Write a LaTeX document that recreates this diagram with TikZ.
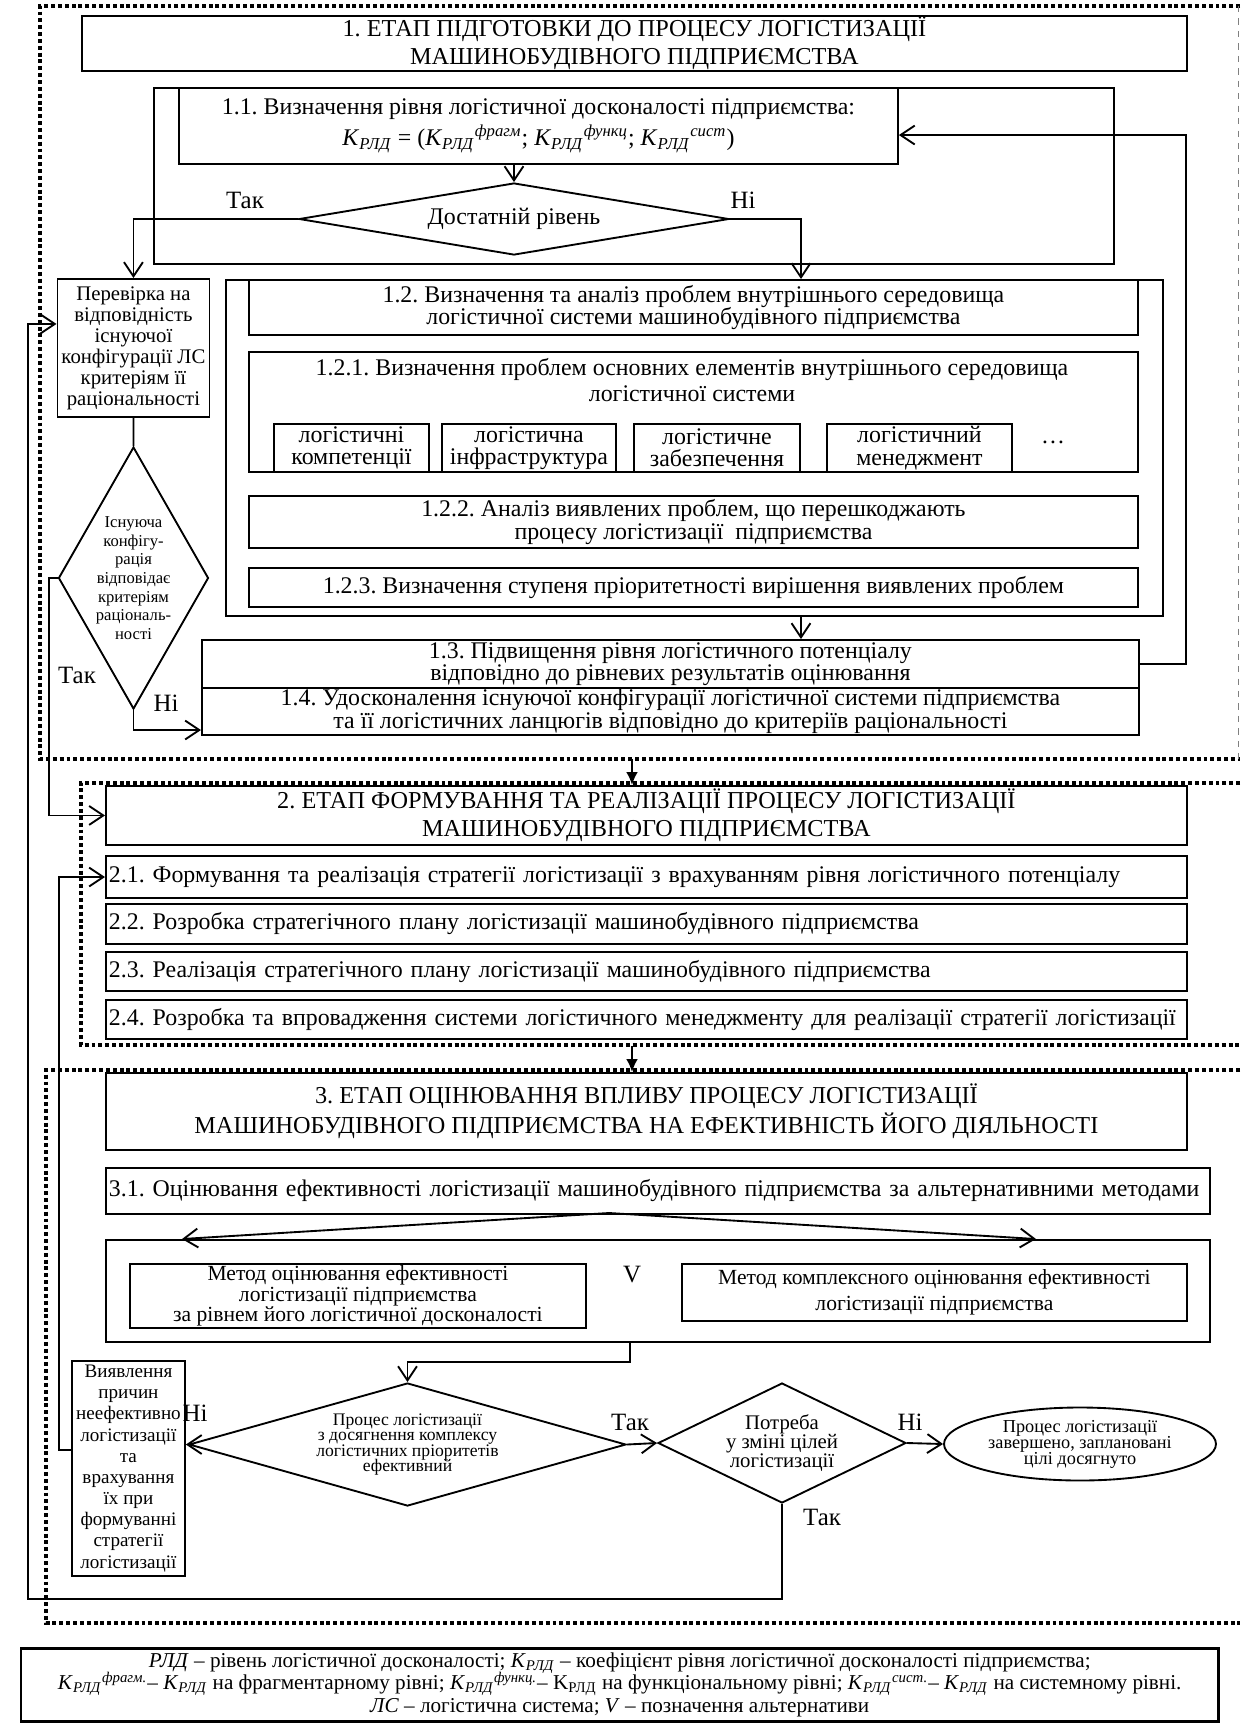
\documentclass[tikz,border=0pt]{standalone}
\usepackage{fontspec}
\setmainfont{Liberation Serif}
\usetikzlibrary{shapes.geometric, arrows.meta}
\frenchspacing

\newlength\pxu
\setlength\pxu{0.16933mm}
\newlength\wtwo
\setlength\wtwo{1075\pxu}
\newlength\wthree
\setlength\wthree{1098\pxu}
\newcommand\setfs[2]{\fontsize{#1}{#2}\selectfont\frenchspacing\lineskiplimit=-50pt\relax}
\newcommand\Kr{\textit{K}\textsubscript{\textit{РЛД}}}
\newcommand\Krld[1]{\Kr\textsuperscript{\textit{#1}}}

\begin{document}
\begin{tikzpicture}[x=0.16933mm, y=-0.16933mm,
  every node/.style={font=\setfs{11.5}{10.8}},
  wh/.style 2 args={minimum width=#1*\pxu, minimum height=#2*\pxu},
  box/.style={draw, line width=0.9pt, rectangle, inner sep=0.5pt, align=center, anchor=north west},
  boxl/.style={box, align=left, inner xsep=1pt, text width=#1},
  cond/.style={draw, line width=0.9pt, diamond, inner sep=0pt, align=center},
  titlebox/.style={box, font=\setfs{11.7}{13.5}},
  stageline/.style={line width=1.6pt, dash pattern=on 1.9pt off 1.4pt},
  link/.style={line width=0.9pt},
  arr/.style={line width=0.9pt, -{Straight Barb[length=2.4mm, width=3.2mm]}},
  bigarr/.style={line width=0.9pt, -{Latex[length=2.2mm, width=2mm]}},
  lbl/.style={font=\setfs{12}{12}}]
\useasboundingbox (0,0) rectangle (1240,1724);

% stage frames
\draw[stageline] (1240,6) -- (40,6) -- (40,759) -- (1240,759);
\draw[thin, dashed, gray] (1238,6) -- (1238,759);
\draw[stageline] (1240,783) -- (81,783) -- (81,1045) -- (1240,1045);
\draw[stageline] (1240,1070) -- (46,1070) -- (46,1623) -- (1240,1623);

% stage 1
\node[titlebox, wh={1105}{55}] (t1) at (81,15) {1. ЕТАП ПІДГОТОВКИ ДО ПРОЦЕСУ ЛОГІСТИЗАЦІЇ\\ МАШИНОБУДІВНОГО ПІДПРИЄМСТВА};
\node[box, wh={960}{176}] (b11f) at (153,87) {};
\node[box, wh={719}{76}, font=\setfs{11.5}{15}] (b11) at (178,87) {1.1. Визначення рівня логістичної досконалості підприємства:\\ \Kr{} = (\Krld{фрагм}; \Krld{функц}; \Krld{сист})};
\node[cond, wh={430}{72}, shape aspect=6] (d1) at (514,219) {Достатній рівень};
\node[lbl] (yes1) at (245,200) {Так};
\node[lbl] (no1) at (743,200) {Ні};

\node[box, wh={152}{138}, inner sep=0pt, font=\setfs{10}{10.1}] (pv) at (56.5,278) {Перевірка на\\ відповідність\\ існуючої\\ конфігурації ЛС\\ критеріям її\\ раціональності};
\node[cond, wh={150}{262}, shape aspect=0.57, font=\setfs{8}{9}] (d2) at (133.5,578) {Існуюча\\ конфігу-\\ рація\\ відповідає\\ критеріям\\ раціональ-\\ ності};
\node[lbl] (yes2) at (77,675) {Так};
\node[lbl] (no2) at (166,703) {Ні};

\node[box, wh={937}{336}] (b12f) at (225,279) {};
\node[box, wh={889}{55}] (b12) at (248,279) {1.2. Визначення та аналіз проблем внутрішнього середовища\\ логістичної системи машинобудівного підприємства};
\node[box, wh={889}{120}] (b121) at (248,351) {};
\node[align=center, font=\setfs{11.5}{12.5}] (b121t) at (692,380) {1.2.1. Визначення проблем основних елементів внутрішнього середовища\\ логістичної системи};
\node[box, wh={155}{48}] (el1) at (273,423) {логістичні\\ компетенції};
\node[box, wh={174}{48}] (el2) at (441,423) {логістична\\ інфраструктура};
\node[box, wh={166}{48}] (el3) at (633,423) {логістичне\\ забезпечення};
\node[box, wh={185}{48}] (el4) at (826,423) {логістичний\\ менеджмент};
\node (more) at (1053,442) {…};
\node[box, wh={889}{52}] (b122) at (248,495) {1.2.2. Аналіз виявлених проблем, що перешкоджають\\ процесу логістизації\ \ підприємства};
\node[box, wh={889}{39}] (b123) at (248,567) {1.2.3. Визначення ступеня пріоритетності вирішення виявлених проблем};
\node[box, wh={937}{48}] (b13) at (201,639) {1.3. Підвищення рівня логістичного потенціалу\\ відповідно до рівневих результатів оцінювання};
\node[box, wh={937}{47}] (b14) at (201,687) {1.4. Удосконалення існуючої конфігурації логістичної системи підприємства\\ та її логістичних ланцюгів відповідно до критеріїв раціональності};

\coordinate (c12) at (801,279);
\coordinate (fb) at (1186,135);
\coordinate (c14) at (133.5,730);
\draw[arr] (b11.south -| d1.north) -- (d1.north);
\draw[arr] (d1.west) -| (pv.north);
\draw[arr] (d1.east) -| (c12);
\draw[arr] (b12f.south -| c12) -- (b13.north -| c12);
\draw[arr] (b13.east) -| (fb) -- (b11.east |- fb);
\draw[link] (pv.south) -- (d2.north);
\draw[arr] (d2.south) -- (c14) -- (c14 -| b14.west);

% stage 2
\coordinate (c2) at (632,759);
\node[titlebox, wh={1081}{59}] (t2) at (105,785) {2. ЕТАП ФОРМУВАННЯ ТА РЕАЛІЗАЦІЇ ПРОЦЕСУ ЛОГІСТИЗАЦІЇ\\ МАШИНОБУДІВНОГО ПІДПРИЄМСТВА};
\node[boxl=\wtwo, wh={1081}{42}] (b21) at (105,855) {2.1. Формування та реалізація стратегії логістизації з врахуванням рівня логістичного потенціалу};
\node[boxl=\wtwo, wh={1081}{40}] (b22) at (105,903) {2.2. Розробка стратегічного плану логістизації машинобудівного підприємства};
\node[boxl=\wtwo, wh={1081}{39}] (b23) at (105,951) {2.3. Реалізація стратегічного плану логістизації машинобудівного підприємства};
\node[boxl=\wtwo, wh={1081}{39}] (b24) at (105,999) {2.4. Розробка та впровадження системи логістичного менеджменту для реалізації стратегії логістизації};
\draw[bigarr] (c2) -- (c2 |- t2.north);
\draw[arr] (d2.west) -- ++(-9,0) |- (t2.west);

% stage 3
\coordinate (c3) at (632,1046);
\node[titlebox, wh={1081}{77}, font=\setfs{11.7}{14.4}] (t3) at (105,1072) {3. ЕТАП ОЦІНЮВАННЯ ВПЛИВУ ПРОЦЕСУ ЛОГІСТИЗАЦІЇ\\ МАШИНОБУДІВНОГО ПІДПРИЄМСТВА НА ЕФЕКТИВНІСТЬ ЙОГО ДІЯЛЬНОСТІ};
\node[boxl=\wthree, wh={1104}{46}] (b31) at (105,1167) {3.1. Оцінювання ефективності логістизації машинобудівного підприємства за альтернативними методами};
\node[box, wh={1104}{102}] (mf) at (105,1239) {};
\node[box, wh={456}{64}, font=\setfs{10.4}{9.9}] (m1) at (129,1263) {Метод оцінювання ефективності\\ логістизації підприємства\\ за рівнем його логістичної досконалості};
\node[lbl] (alt) at (632,1275) {V};
\node[box, wh={505}{57}, font=\setfs{10.4}{12.5}] (m2) at (681,1263) {Метод комплексного оцінювання ефективності\\ логістизації підприємства};
\node[cond, wh={437}{123}, shape aspect=3.55, font=\setfs{8.5}{7.4}] (d3) at (407.5,1444.5) {Процес логістизації\\ з досягнення комплексу\\ логістичних пріоритетів\\ ефективний};
\node[cond, wh={248}{120}, shape aspect=2.07, font=\setfs{10}{9}] (d4) at (782,1443) {Потреба\\ у зміні цілей\\ логістизації};
\node[draw, line width=0.9pt, ellipse, inner sep=0pt, align=center, wh={272}{73}, font=\setfs{8.8}{7.7}] (e1) at (1080,1444) {Процес логістизації\\ завершено, заплановані\\ цілі досягнуто};
\node[box, wh={113}{215}, inner sep=0pt, font=\setfs{9.2}{10.2}] (vv) at (71,1360) {Виявлення\\ причин\\ неефективно\\ логістизації\\ та\\ врахування\\ їх при\\ формуванні\\ стратегії\\ логістизації};
\node[lbl] (no3) at (195,1413) {Ні};
\node[lbl] (yes3) at (630,1422) {Так};
\node[lbl] (no4) at (910,1422) {Ні};
\node[lbl] (yes4) at (822,1517) {Так};

\coordinate (sp) at (609,1213);
\coordinate (mL) at (182,1239);
\coordinate (mR) at (1036,1239);
\coordinate (cm) at (630,1362);
\coordinate (cv) at (59,877);
\coordinate (cl) at (28,1599);
\draw[bigarr] (c3) -- (c3 |- t3.north);
\draw[arr] (sp) -- (mL);
\draw[arr] (sp) -- (mR);
\draw[arr] (mf.south -| cm) -- (cm) -| (d3.north);
\draw[arr] (d3.east) -- (d4.west);
\draw[arr] (d4.east) -- (e1.west);
\draw[arr] (d3.west) -- (vv.east |- d3.west);
\draw[arr] ([yshift=18.5*\pxu]vv.west) -| (cv) -- (b21.west |- cv);
\draw[arr] (d4.south) |- (cl) |- ([yshift=24*\pxu]pv.west);

% legend
\node[box, wh={1197}{73}, line width=1.2pt, font=\setfs{10.2}{11}] (leg) at (20,1647) {\textit{РЛД} – рівень логістичної досконалості; \Kr{} – коефіцієнт рівня логістичної досконалості підприємства;\\ \Krld{фрагм.}– \Kr{} на фрагментарному рівні; \Krld{функц.}– K\textsubscript{РЛД} на функціональному рівні; \Krld{сист.}– \Kr{} на системному рівні.\\ \textit{ЛС} – логістична система; \textit{V} – позначення альтернативи};
\end{tikzpicture}
\end{document}
